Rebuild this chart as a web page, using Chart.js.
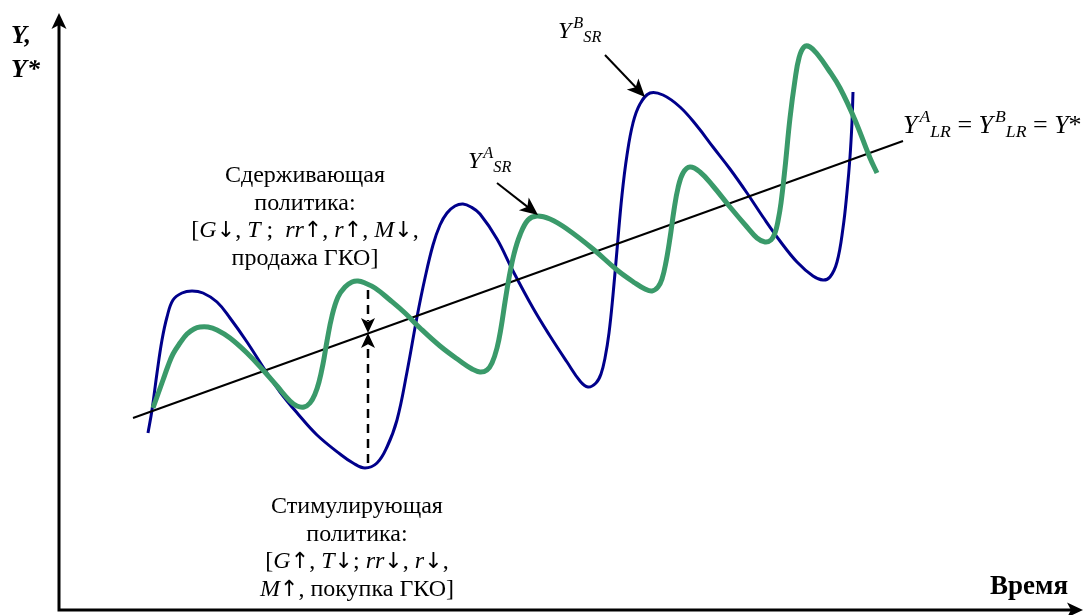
<!DOCTYPE html>
<html><head><meta charset="utf-8">
<script src="https://cdn.jsdelivr.net/npm/chart.js@4"></script>
<style>
body{margin:0;background:#fff;}
#wrap{position:relative;width:1086px;height:615px;overflow:hidden;}
#c{position:absolute;left:0;top:0;}
.t{position:absolute;font-family:"Liberation Serif","Times New Roman","DejaVu Serif",serif;font-size:24px;color:#000;white-space:nowrap;line-height:1;}
.m{line-height:27.6px;text-align:center;width:340px;}
.sp{font-size:0.68em;position:relative;top:-0.62em;margin-left:2px;}
.sb{font-size:0.68em;position:relative;top:0.25em;}
.ar{font-family:"DejaVu Sans",sans-serif;font-size:0.92em;}
</style></head>
<body><div id="wrap"><canvas id="c" width="1086" height="615"></canvas>
<div class="t" style="left:11px;top:22px;font-size:26px;font-weight:bold;font-style:italic;">Y,</div>
<div class="t" style="left:11px;top:56px;font-size:26px;font-weight:bold;font-style:italic;">Y*</div>
<div class="t" style="left:558px;top:18px;"><i>Y</i><span class="sp"><i>B</i></span><span class="sb"><i>SR</i></span></div>
<div class="t" style="left:468px;top:148px;"><i>Y</i><span class="sp"><i>A</i></span><span class="sb"><i>SR</i></span></div>
<div class="t" style="left:903px;top:112px;font-size:26px;"><i>Y</i><span class="sp"><i>A</i></span><span class="sb"><i>LR</i></span> = <i>Y</i><span class="sp"><i>B</i></span><span class="sb"><i>LR</i></span> = <i>Y</i>*</div>
<div class="t" style="left:990px;top:572px;font-size:27px;font-weight:bold;">Время</div>
<div class="t m" style="left:135px;top:161px;">Сдерживающая<br>политика:<br>[<i>G</i><span class="ar">↓</span>, <i>T</i> ;&nbsp; <i>rr</i><span class="ar">↑</span>, <i>r</i><span class="ar">↑</span>, <i>M</i><span class="ar">↓</span>,<br>продажа ГКО]</div>
<div class="t m" style="left:187px;top:492px;">Стимулирующая<br>политика:<br>[<i>G</i><span class="ar">↑</span>, <i>T</i><span class="ar">↓</span>; <i>rr</i><span class="ar">↓</span>, <i>r</i><span class="ar">↓</span>,<br><i>M</i><span class="ar">↑</span>, покупка ГКО]</div>
</div>
<script>
// Y^B_SR (blue) short-run output
const timeB = [8.9,9.3,9.8,10.3,10.8,11.4,12.3,13.3,14.4,15.8,17.1,18.8,20.6,22.1,23.9,25.8,28.1,29.4,30.6,31.8,32.8,33.8,34.8,35.8,36.6,37.4,38.1,38.8,39.6,40.4,41.2,42.1,43.8,45.4,47.4,49.1,50.8,52.1,52.9,53.7,54.2,54.6,55.0,55.4,55.8,56.3,56.8,57.4,58.1,59.1,60.4,62.1,63.8,65.4,67.1,68.8,70.4,72.1,73.8,75.4,76.4,77.1,77.8,78.4,78.8,79.1,79.3,79.4];
const outputB = [17.7,20.0,23.7,27.0,29.3,31.0,31.7,31.9,31.7,30.8,29.2,26.8,24.0,21.8,19.6,17.5,15.6,14.7,14.2,14.7,16.3,19.0,23.8,29.3,33.2,36.5,38.5,39.7,40.4,40.6,40.3,39.6,37.1,33.9,30.2,27.4,24.8,22.9,22.3,22.7,23.6,25.2,27.7,31.5,36.0,41.5,45.5,48.7,50.6,51.7,51.5,50.3,48.4,46.3,44.1,41.7,39.3,36.9,34.8,33.4,33.0,33.3,34.8,38.2,41.8,45.3,48.8,51.8];
// Y^A_SR (green) short-run output
const timeA = [9.4,9.9,10.4,10.9,11.4,12.1,12.8,13.5,14.1,14.9,15.8,17.1,18.8,20.4,21.8,23.1,23.8,24.5,25.1,25.6,26.0,26.4,26.8,27.3,27.9,28.6,29.3,29.9,30.6,31.6,33.1,34.6,36.1,38.1,40.1,41.3,42.1,42.8,43.3,43.8,44.2,44.6,45.0,45.5,46.1,46.9,47.8,49.1,50.8,53.4,55.8,57.6,58.6,59.3,59.9,60.3,60.7,61.1,61.5,61.9,62.4,63.1,64.1,65.4,67.1,68.8,69.8,70.6,71.2,71.6,71.9,72.2,72.6,73.1,73.6,74.0,74.5,75.1,75.9,76.9,78.1,79.6,81.1,81.8];
const outputA = [20.2,21.6,23.0,24.4,25.6,26.7,27.6,28.1,28.3,28.3,28.0,27.2,25.7,24.0,22.4,20.9,20.4,20.3,20.7,21.6,22.8,24.6,26.9,29.4,31.3,32.3,32.8,32.9,32.7,32.2,31.0,29.7,28.2,26.4,24.9,24.1,23.8,24.0,24.7,26.2,28.2,30.8,33.2,35.6,37.5,39.0,39.4,39.1,38.1,36.1,34.0,32.7,32.1,31.9,32.3,33.1,34.8,37.2,40.0,42.2,43.7,44.3,43.8,42.4,40.3,38.3,37.2,36.8,37.0,37.7,38.9,40.7,44.2,49.2,53.0,55.2,56.3,56.3,55.5,54.1,52.2,49.0,45.2,43.7];
// Y*_LR long-run trend
const timeLR = [7.4, 84.4];
const outputLR = [19.2, 46.9];

const toXY = (xs, ys) => xs.map((x, i) => ({x, y: ys[i]}));

const anno = {
  ptrB: [54.6, 55.5, 58.6, 51.3],
  ptrA: [43.8, 42.7, 47.9, 39.5],
  gapT: 30.9, gapTop: 32.0, gapBottom: 14.7, gapMeet: 27.7
};

function head(ctx, x, y, ang, len, wid) {
  ctx.save();
  ctx.translate(x, y); ctx.rotate(ang);
  ctx.beginPath();
  ctx.moveTo(0, 0);
  ctx.lineTo(-len, -wid / 2);
  ctx.lineTo(-len * 0.75, 0);
  ctx.lineTo(-len, wid / 2);
  ctx.closePath();
  ctx.fillStyle = '#000'; ctx.fill();
  ctx.restore();
}

const deco = {
  id: 'deco',
  afterDatasetsDraw(chart) {
    const ctx = chart.ctx, xs = chart.scales.x, ys = chart.scales.y;
    const X = v => xs.getPixelForValue(v), Y = v => ys.getPixelForValue(v);
    ctx.save();
    ctx.strokeStyle = '#000'; ctx.lineCap = 'butt';
    const ox = X(0), oy = Y(0);
    const topY = Y(59.7), rightX = X(102.4);
    ctx.lineWidth = 3;
    ctx.beginPath();
    ctx.moveTo(ox, topY + 10); ctx.lineTo(ox, oy); ctx.lineTo(rightX - 10, oy);
    ctx.stroke();
    head(ctx, ox, topY, -Math.PI / 2, 16, 15);
    head(ctx, rightX, oy, 0, 16, 15);
    ctx.lineWidth = 2;
    for (const p of [anno.ptrB, anno.ptrA]) {
      const x1 = X(p[0]), y1 = Y(p[1]), x2 = X(p[2]), y2 = Y(p[3]);
      const a = Math.atan2(y2 - y1, x2 - x1);
      ctx.beginPath(); ctx.moveTo(x1, y1);
      ctx.lineTo(x2 - 12 * Math.cos(a), y2 - 12 * Math.sin(a)); ctx.stroke();
      head(ctx, x2, y2, a, 18, 16);
    }
    const gx = X(anno.gapT), gm = Y(anno.gapMeet);
    ctx.lineWidth = 2.5; ctx.setLineDash([9, 6]);
    ctx.beginPath();
    ctx.moveTo(gx, Y(anno.gapTop)); ctx.lineTo(gx, gm - 12);
    ctx.moveTo(gx, Y(anno.gapBottom)); ctx.lineTo(gx, gm + 12);
    ctx.stroke(); ctx.setLineDash([]);
    head(ctx, gx, gm, Math.PI / 2, 15, 14);
    head(ctx, gx, gm, -Math.PI / 2, 15, 14);
    ctx.restore();
  }
};

new Chart(document.getElementById('c'), {
  type: 'line',
  data: {
    datasets: [
      {label: 'Y^A_SR', data: toXY(timeA, outputA), borderColor: '#3a9a6a', borderWidth: 5, tension: 0.4, borderJoinStyle: 'round', pointRadius: 0, fill: false, order: 0},
      {label: 'Y*', data: toXY(timeLR, outputLR), borderColor: '#000', borderWidth: 2, pointRadius: 0, fill: false, order: 1},
      {label: 'Y^B_SR', data: toXY(timeB, outputB), borderColor: '#00008b', borderWidth: 3, tension: 0.4, borderJoinStyle: 'round', pointRadius: 0, fill: false, order: 2}
    ]
  },
  options: {
    responsive: false, animation: false, devicePixelRatio: 1,
    layout: {padding: 0},
    plugins: {legend: {display: false}, tooltip: {enabled: false}},
    scales: {
      x: {type: 'linear', min: -5.9, max: 102.7, display: false},
      y: {type: 'linear', min: -0.5, max: 61.0, display: false}
    }
  },
  plugins: [deco]
});
</script>
</body></html>
